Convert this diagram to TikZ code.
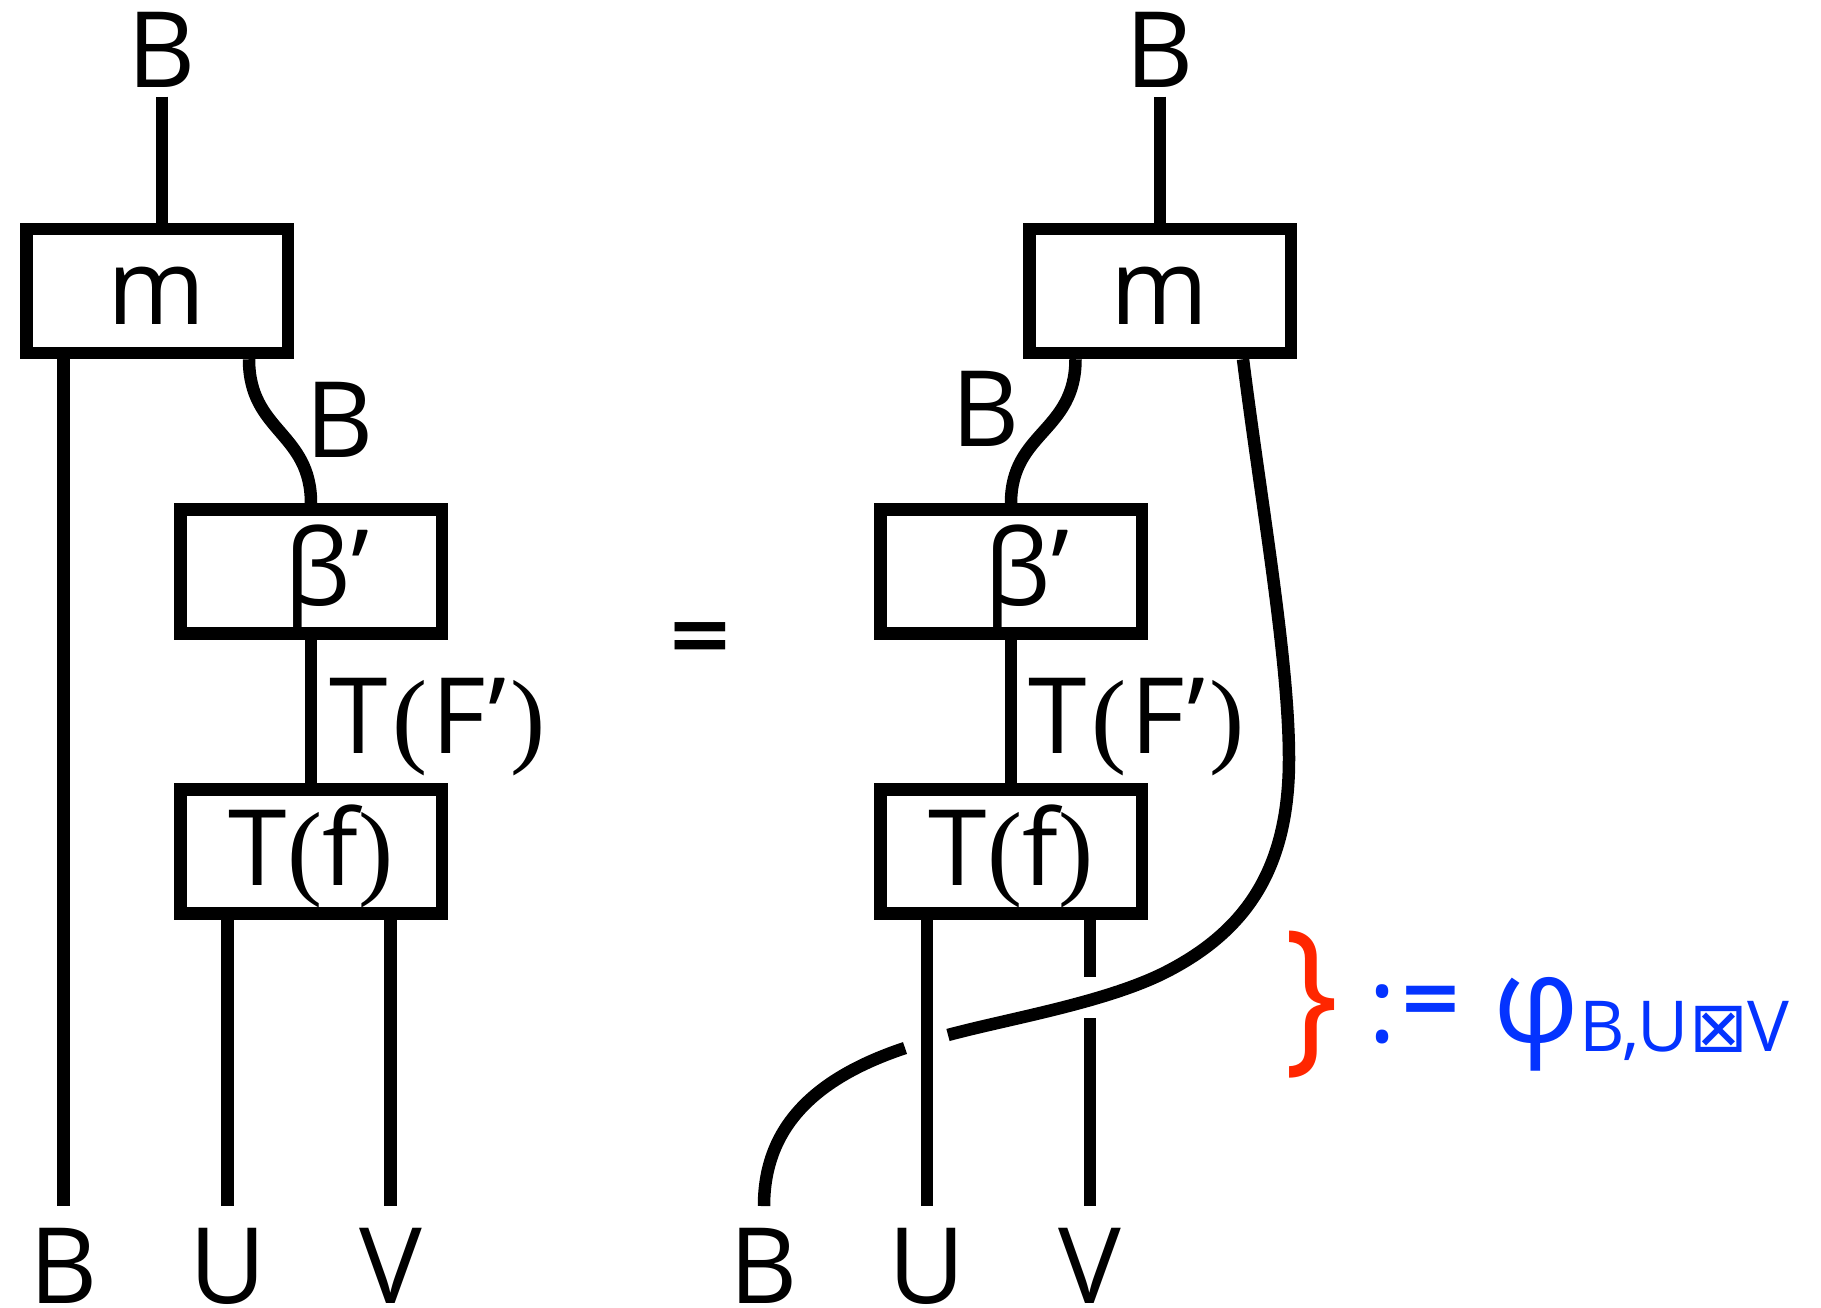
\documentclass[tikz,border=0pt]{standalone}
\usepackage{fontspec}
\setmainfont{Open Sans}
\newfontfamily\serifparen{Liberation Serif}
\newfontfamily\boxtimesfont{DejaVu Sans}
\newcommand{\parL}{{\serifparen(}}
\newcommand{\parR}{{\serifparen)}}
\newcommand{\heavyeq}[1]{{\boxtimesfont\bfseries\fontsize{#1}{#1}\selectfont =}}
\definecolor{crayonred}{RGB}{255,38,0}
\definecolor{crayonblue}{RGB}{4,51,255}
\tikzset{
    wire/.style={line width=0.125cm},
    morph/.style={draw, line width=0.125cm, minimum width=2.615cm, minimum height=1.24cm, inner sep=0pt, text height=0.8cm, text depth=0.12cm},
    lbl/.style={inner sep=0pt, anchor=base},
}
\begin{document}
\begin{tikzpicture}[font=\fontsize{30}{36}\selectfont]
        \useasboundingbox (0,0) rectangle (18.21,13.07);
        % left hand side
        \node[morph] (mL) at (1.57,10.16) {m};
        \node[morph] (bL) at (3.11,7.355) {\hspace*{0.32cm}β’};
        \node[morph] (fL) at (3.11,4.555) {T\parL f\parR};
        \node[lbl] (BtopL) at (1.62,12.19) {B};
        \node[lbl] (BmidL) at (3.395,8.49) {B};
        \node[lbl, anchor=base west] (TFL) at (3.29,5.53) {T\kern0.04cm\parL\kern0.04cm F\kern0.03cm’\kern0.04cm\parR};
        \node[lbl] (BbotL) at (0.635,0.04) {B};
        \node[lbl] (UbotL) at (2.275,0.04) {U};
        \node[lbl] (VbotL) at (3.905,0.04) {V};
        \draw[wire] ([yshift=-0.08cm]BtopL.south) -- (mL.north -| BtopL);
        \draw[wire] ([xshift=0.92cm]mL.south) .. controls (2.49,8.75) and (3.11,8.75) .. (bL.north);
        \draw[wire] (bL) -- (fL);
        \draw[wire] (mL.south -| BbotL) -- ([yshift=0.21cm]BbotL.north);
        \draw[wire] (fL.south -| UbotL) -- ([yshift=0.21cm]UbotL.north);
        \draw[wire] (fL.south -| VbotL) -- ([yshift=0.21cm]VbotL.north);
        \node (eq) at (7.00,6.65) {\heavyeq{23}};
        % right hand side
        \node[morph] (mR) at (11.60,10.16) {m};
        \node[morph] (bR) at (10.11,7.355) {\hspace*{0.32cm}β’};
        \node[morph] (fR) at (10.11,4.555) {T\parL f\parR};
        \node[lbl] (BtopR) at (11.60,12.19) {B};
        \node[lbl] (BmidR) at (9.855,8.60) {B};
        \node[lbl, anchor=base west] (TFR) at (10.28,5.53) {T\kern0.04cm\parL\kern0.04cm F\kern0.03cm’\kern0.04cm\parR};
        \node[lbl] (BbotR) at (7.64,0.04) {B};
        \node[lbl] (UbotR) at (9.27,0.04) {U};
        \node[lbl] (VbotR) at (10.90,0.04) {V};
        \coordinate (Vup) at (10.90,3.30); \coordinate (Vlo) at (10.90,2.89);
        \coordinate (underL) at (9.05,2.59); \coordinate (underR) at (9.48,2.72);
        \draw[wire] ([yshift=-0.08cm]BtopR.south) -- (mR.north -| BtopR);
        \draw[wire] ([xshift=-0.845cm]mR.south) .. controls (10.755,8.75) and (10.11,8.75) .. (bR.north);
        \draw[wire] (bR) -- (fR);
        \draw[wire] (fR.south -| UbotR) -- ([yshift=0.21cm]UbotR.north);
        \draw[wire] (fR.south -| VbotR) -- (Vup);
        \draw[wire] (Vlo) -- ([yshift=0.21cm]VbotR.north);
        \draw[wire] ([xshift=0.83cm]mR.south) .. controls (12.61,8.05) and (12.89,6.48) .. (12.89,5.48)
            .. controls (12.89,4.38) and (12.46,3.76) .. (11.66,3.35)
            .. controls (11.06,3.044) and (10.08,2.882) .. (underR);
        \draw[wire] (underL) .. controls (8.15,2.29) and (7.64,1.80) .. ([yshift=0.21cm]BbotR.north);
        % the braid
        \node[text=crayonred, font=\fontsize{48}{54}\selectfont] (brace) at (13.12,3.02) {\scalebox{0.85}[1]{\}}};
        \node[lbl, anchor=base west, text=crayonblue] (phi) at (13.68,2.64) {:\kern0.02cm\raisebox{0.2cm}{\heavyeq{22}}\kern0.3cm{\fontsize{34}{40}\selectfont φ}\raisebox{-0.09cm}{\fontsize{20}{24}\selectfont B,U{\boxtimesfont ⊠}V}};
    \end{tikzpicture}
\end{document}
